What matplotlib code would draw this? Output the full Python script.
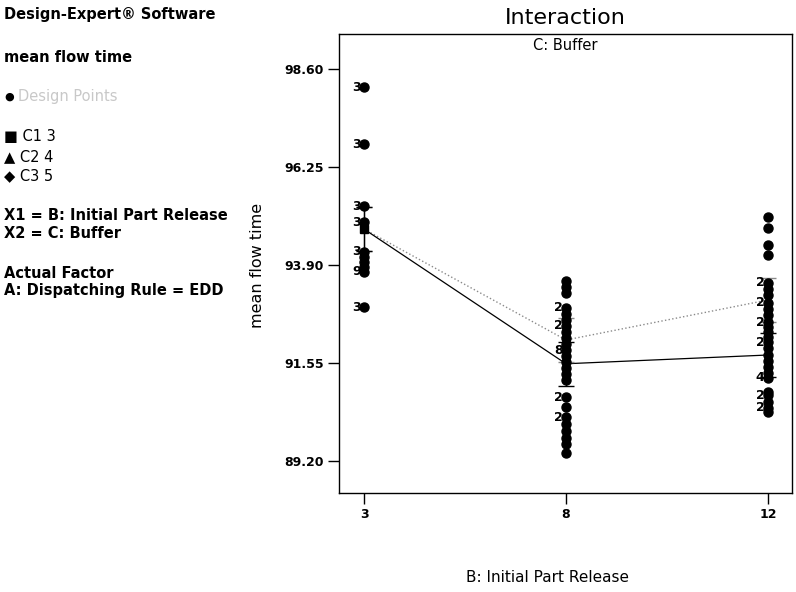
import matplotlib
matplotlib.use("Agg")
import matplotlib.pyplot as plt

plt.rcParams['font.family'] = ['DejaVu Sans']

# factor levels of B (drawn as equally spaced categories)
levels = ['3', '8', '12']

# model means for the two visible buffer levels
mean_c1 = [94.76, 91.53, 91.74]
mean_c2 = [94.76, 92.10, 93.06]
lsd_half = 0.53

# design points per level: (value, replicate label or '')
pts_3 = [(98.16, '3'), (96.79, '3'), (95.31, '3'), (94.93, '3'),
         (94.22, '3'), (94.10, ''), (93.98, ''), (93.86, ''), (93.74, '9'),
         (92.89, '3')]
pts_8 = [(93.52, ''), (93.37, ''), (93.23, ''),
         (92.87, '2'), (92.72, ''), (92.58, ''), (92.44, '2'), (92.29, ''),
         (92.15, ''), (92.01, ''), (91.86, '8'), (91.72, ''), (91.57, ''),
         (91.43, ''), (91.29, ''), (91.14, ''),
         (90.73, '2'), (90.49, ''), (90.25, '2'), (90.09, ''), (89.92, ''),
         (89.75, ''), (89.61, ''), (89.39, '')]
pts_12 = [(95.06, ''), (94.78, ''), (94.38, ''), (94.14, ''),
          (93.47, '2'), (93.33, ''), (93.19, ''), (92.99, '2'), (92.85, ''),
          (92.70, ''), (92.53, '2'), (92.40, ''), (92.29, ''), (92.17, ''),
          (92.05, '2'), (91.90, ''), (91.75, ''), (91.60, ''), (91.45, ''),
          (91.32, ''), (91.19, '4'),
          (90.85, ''), (90.78, '2'), (90.62, ''), (90.47, '2'), (90.38, '')]

yticks = [89.20, 91.55, 93.90, 96.25, 98.60]

fig = plt.figure(figsize=(7.96, 5.92), dpi=100)
ax = fig.add_axes([339 / 796, 1 - 493 / 592, 453 / 796, 459 / 592])

xs = list(range(len(levels)))

for i, pts in enumerate([pts_3, pts_8, pts_12]):
    vals = [v for v, _ in pts]
    ax.plot([i] * len(vals), vals, 'o', color='black', ms=6.5, zorder=4)
    for v, lab in pts:
        if lab:
            ax.annotate(lab, (i, v), xytext=(-2.5, 0), textcoords='offset points',
                        ha='right', va='center', fontsize=9, fontweight='bold',
                        zorder=5)

ax.plot(xs, mean_c2, ':', color='#8a8a8a', lw=1.0, zorder=3)
ax.plot(xs, mean_c1, '-', color='black', lw=0.9, zorder=3)
ax.plot(xs[:1], mean_c1[:1], 's', color='black', ms=5.5, zorder=4)
ax.errorbar(xs, mean_c2, yerr=lsd_half, fmt='none', ecolor='#8a8a8a',
            elinewidth=1, capsize=5.5, zorder=3)
ax.errorbar(xs, mean_c1, yerr=lsd_half, fmt='none', ecolor='black',
            elinewidth=1, capsize=5.5, zorder=3)

ax.set_xlim(-0.124, 2.119)
ax.set_ylim(88.43, 99.44)
ax.set_xticks(xs)
ax.set_xticklabels(levels)
ax.set_yticks(yticks)
ax.set_yticklabels([f'{t:.2f}' for t in yticks])
ax.tick_params(direction='out', length=8, width=1, labelsize=9, pad=3)
for lab in ax.get_xticklabels() + ax.get_yticklabels():
    lab.set_fontweight('bold')
for s in ax.spines.values():
    s.set_linewidth(1)

ax.text(0.5, 1 - 12 / 459, 'C: Buffer', transform=ax.transAxes, ha='center',
        va='center', fontsize=10.5)
fig.text(565 / 796, 1 - 18 / 592, 'Interaction', ha='center', va='center',
         fontsize=16)
fig.text(258 / 796, 1 - 265 / 592, 'mean flow time', rotation=90, ha='center',
         va='center', fontsize=11.5)
fig.text(548 / 796, 1 - 578 / 592, 'B: Initial Part Release', ha='center',
         va='center', fontsize=11)

# side panel with the run information
def side(y, s, size=10.5, **kw):
    fig.text(4 / 796, 1 - y / 592, s, ha='left', va='center', fontsize=size, **kw)

side(15, 'Design-Expert® Software', fontweight='bold')
side(57, 'mean flow time', fontweight='bold')
side(97, '●', color='black', size=8)
fig.text(18 / 796, 1 - 97 / 592, 'Design Points', ha='left', va='center',
         fontsize=10.5, color='#c8c8c8')
side(137, '■ C1 3')
side(157, '▲ C2 4')
side(176, '◆ C3 5')
side(215, 'X1 = B: Initial Part Release', fontweight='bold')
side(234, 'X2 = C: Buffer', fontweight='bold')
side(273, 'Actual Factor', fontweight='bold')
side(291, 'A: Dispatching Rule = EDD', fontweight='bold')

fig.savefig('out.png', dpi=100)
